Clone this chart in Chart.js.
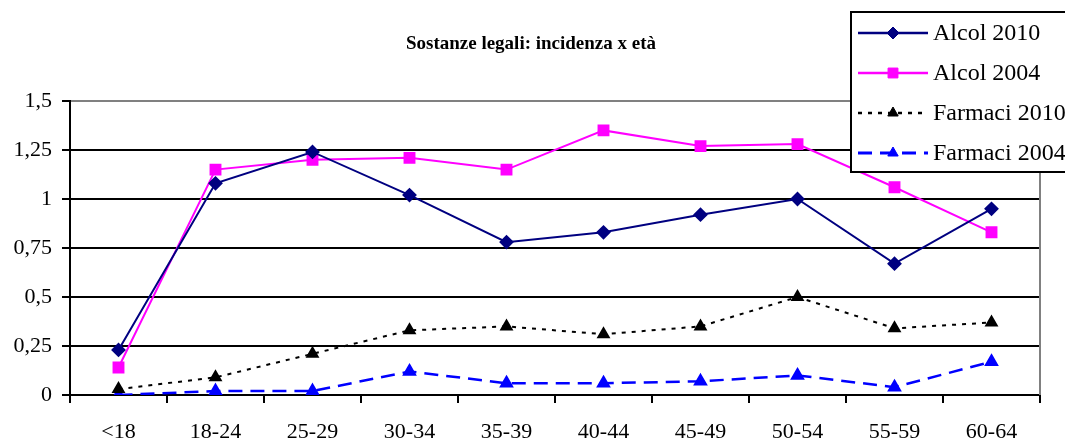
<!DOCTYPE html>
<html>
<head>
<meta charset="utf-8">
<script src="https://cdn.jsdelivr.net/npm/chart.js@4/dist/chart.umd.min.js"></script>
<style>
html,body{margin:0;padding:0;background:#fff;}
#wrap{position:relative;width:1065px;height:443px;}
</style>
</head>
<body>
<div id="wrap"><canvas id="c" width="1065" height="443"></canvas></div>
<script>
const categories = ["<18","18-24","25-29","30-34","35-39","40-44","45-49","50-54","55-59","60-64"];
const alcol2010 = [0.23,1.08,1.24,1.02,0.78,0.83,0.92,1.00,0.67,0.95];
const alcol2004 = [0.14,1.15,1.20,1.21,1.15,1.35,1.27,1.28,1.06,0.83];
const farmaci2010 = [0.03,0.09,0.21,0.33,0.35,0.31,0.35,0.50,0.34,0.37];
const farmaci2004 = [0.00,0.02,0.02,0.12,0.06,0.06,0.07,0.10,0.04,0.17];
const seriesNames = ["Alcol 2010","Alcol 2004","Farmaci 2010","Farmaci 2004"];
const titleText = "Sostanze legali: incidenza x età";

const SERIF = "'Liberation Serif','Times New Roman',serif";

const decorPlugin = {
  id: 'decor',
  afterDraw(chart) {
    const ctx = chart.ctx;
    const a = chart.chartArea;
    ctx.save();
    // right border of plot area
    ctx.strokeStyle = '#808080';
    ctx.lineWidth = 2;
    ctx.beginPath();
    ctx.moveTo(a.right, a.top);
    ctx.lineTo(a.right, a.bottom);
    ctx.stroke();
    // title
    ctx.fillStyle = '#000';
    ctx.font = "bold 19px " + SERIF;
    ctx.textAlign = 'center';
    ctx.textBaseline = 'middle';
    ctx.fillText(titleText, 531, 44);
    // legend box
    const bx = 851, by = 12, bw = 216, bh = 160;
    ctx.fillStyle = '#fff';
    ctx.fillRect(bx, by, bw, bh);
    ctx.strokeStyle = '#000';
    ctx.lineWidth = 2;
    ctx.strokeRect(bx, by, bw, bh);
    chart.data.datasets.forEach((ds, i) => {
      const y = 33 + i * 40;
      ctx.save();
      ctx.strokeStyle = ds.borderColor;
      ctx.lineWidth = ds.borderWidth + 0.5;
      ctx.setLineDash(ds.borderDash || []);
      ctx.beginPath();
      ctx.moveTo(858, y);
      ctx.lineTo(928, y);
      ctx.stroke();
      ctx.restore();
      ctx.save();
      ctx.fillStyle = ds.pointBackgroundColor;
      ctx.strokeStyle = ds.pointBorderColor;
      ctx.lineWidth = 1;
      ctx.setLineDash([]);
      Chart.helpers.drawPoint(ctx, {
        pointStyle: ds.pointStyle,
        radius: ds.pointRadius,
        borderWidth: 1
      }, 893, y);
      ctx.restore();
      ctx.fillStyle = '#000';
      ctx.font = "24px " + SERIF;
      ctx.textAlign = 'left';
      ctx.textBaseline = 'middle';
      ctx.fillText(ds.label, 933, y + 1);
    });
    ctx.restore();
  }
};

function mk(label, data, color, style, dash, width, radius) {
  return {
    label, data,
    borderColor: color, backgroundColor: color,
    pointBackgroundColor: color, pointBorderColor: color,
    borderWidth: width, borderDash: dash,
    pointStyle: style, pointRadius: radius,
    pointHoverRadius: radius,
    tension: 0, fill: false
  };
}

const chart = new Chart(document.getElementById('c'), {
  type: 'line',
  data: {
    labels: categories,
    datasets: [
      mk(seriesNames[0], alcol2010, '#000080', 'rectRot', [], 2, 6),
      mk(seriesNames[1], alcol2004, '#FF00FF', 'rect', [], 2, 7),
      mk(seriesNames[2], farmaci2010, '#000000', 'triangle', [4,6], 2, 6),
      mk(seriesNames[3], farmaci2004, '#0000FF', 'triangle', [14,8], 2.5, 6)
    ]
  },
  options: {
    responsive: false,
    animation: false,
    devicePixelRatio: 1,
    layout: { padding: { left: 0, right: 25, top: 101, bottom: 0 } },
    plugins: { legend: { display: false }, title: { display: false }, tooltip: { enabled: false } },
    scales: {
      x: {
        type: 'category',
        offset: true,
        grid: { offset: true, drawOnChartArea: false, drawTicks: true, tickLength: 8, color: '#000', lineWidth: 2 },
        border: { color: '#000', width: 2 },
        ticks: { color: '#000', font: { family: SERIF, size: 22 }, padding: 16, maxRotation: 0, autoSkip: false },
        afterFit(scale) { scale.height = 48; }
      },
      y: {
        min: 0, max: 1.5,
        ticks: {
          stepSize: 0.25, color: '#000', font: { family: SERIF, size: 22 }, padding: 10,
          callback: v => String(v).replace('.', ',')
        },
        grid: {
          color: ctx => (ctx.tick && ctx.tick.value === 1.5) ? '#808080' : '#000',
          tickColor: '#000',
          lineWidth: 2, tickLength: 8
        },
        border: { color: '#000', width: 2 },
        afterFit(scale) { scale.width = 70; }
      }
    }
  },
  plugins: [decorPlugin]
});
</script>
</body>
</html>
